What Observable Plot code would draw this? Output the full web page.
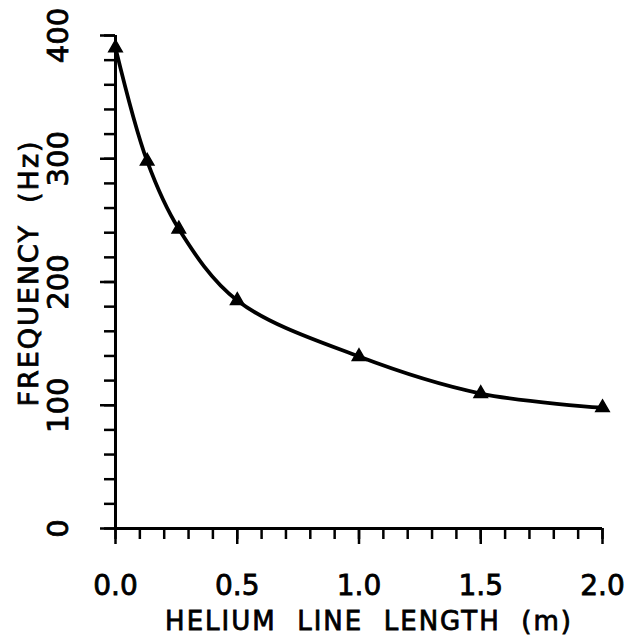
<!DOCTYPE html>
<html><head><meta charset="utf-8">
<script src="https://cdn.jsdelivr.net/npm/d3@7"></script>
<script src="https://cdn.jsdelivr.net/npm/@observablehq/plot@0.6"></script>
<style>body{margin:0;background:#fff}</style>
</head><body><div id="chart"></div>
<script>
const lengthM = [0.0, 0.13, 0.26, 0.5, 1.0, 1.5, 2.0];
const freqHz = [390, 298, 243, 185, 139.5, 109.5, 98];
const xMajorTicks = [0, 0.5, 1.0, 1.5, 2.0];
const xMinorTicks = [0, 0.1, 0.2, 0.3, 0.4, 0.5, 0.6, 0.7, 0.8, 0.9, 1.0, 1.1, 1.2, 1.3, 1.4, 1.5, 1.6, 1.7, 1.8, 1.9, 2.0];
const yMajorTicks = [0, 100, 200, 300, 400];
const yMinorTicks = [0, 20, 40, 60, 80, 100, 120, 140, 160, 180, 200, 220, 240, 260, 280, 300, 320, 340, 360, 380, 400];
const xTitle = "HELIUM\u00a0 LINE\u00a0 LENGTH\u00a0 (m)";
const yTitle = "FREQUENCY\u00a0 (Hz)";

const data = lengthM.map((x, i) => ({x, y: freqHz[i]}));
const font = "DejaVu Sans, sans-serif";

const chart = Plot.plot({
  width: 624, height: 640,
  marginLeft: 115, marginRight: 22, marginTop: 35, marginBottom: 112,
  style: {fontFamily: font, color: "#000", background: "#fff", overflow: "visible"},
  x: {domain: [0, 2]},
  y: {domain: [0, 400]},
  marks: [
    Plot.axisX(xMinorTicks, {tickSize: 11, strokeWidth: 2.5, text: null, label: null}),
    Plot.axisX(xMajorTicks, {tickSize: 16, strokeWidth: 2.5, tickFormat: d3.format(".1f"), fontSize: 28, tickPadding: 31, label: null}),
    Plot.axisY(yMinorTicks, {tickSize: 11, strokeWidth: 2.5, text: null, label: null}),
    Plot.axisY(yMajorTicks, {tickSize: 15, strokeWidth: 2.5, tickRotate: -90, fontSize: 29, tickPadding: 33, label: null}),
    Plot.ruleY([0], {strokeWidth: 3}),
    Plot.ruleX([0], {strokeWidth: 3}),
    Plot.line(data, {x: "x", y: "y", curve: "catmull-rom", strokeWidth: 3.8}),
    Plot.dot(data, {x: "x", y: "y", symbol: "triangle", r: 5, fill: "black", stroke: "black"}),
    Plot.text([xTitle], {frameAnchor: "bottom", textAnchor: "middle", dy: 101, dx: 10, fontSize: 26, fill: "black"}),
    Plot.text([yTitle], {frameAnchor: "left", textAnchor: "middle", rotate: -90, dx: -86, dy: -9, fontSize: 27, fill: "black"})
  ]
});
const svg = d3.select(chart);
svg.selectAll("text").attr("stroke", "black").attr("stroke-width", 0.8).attr("paint-order", "stroke");
svg.selectAll("text").filter(function() {
  const t = this.textContent; return t.includes("HELIUM") || t.includes("FREQUENCY");
}).attr("letter-spacing", 2);
document.getElementById("chart").appendChild(chart);
</script></body></html>
